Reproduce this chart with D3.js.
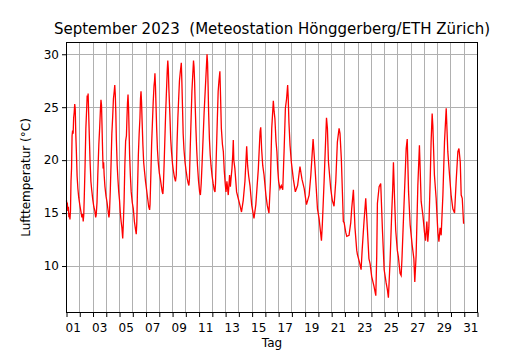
<!DOCTYPE html>
<html>
<head>
<meta charset="utf-8">
<script src="https://cdn.jsdelivr.net/npm/d3@7"></script>
<style>
  body { margin: 0; background: #fff; }
  svg { display: block; }
  text { font-family: "DejaVu Sans", sans-serif; fill: #000; }
</style>
</head>
<body>
<svg id="chart" width="530" height="350"></svg>
<script>
/*
 * Lufttemperatur September 2023, Hoenggerberg.
 * Values: [day since Sep 1 00:00, degC].
 */
var readings = [
  [0.00,16.2],[0.03,15.6],[0.06,16.0],[0.10,15.2],[0.14,15.6],[0.18,14.6],[0.22,15.0],[0.26,14.4],[0.30,15.2],[0.34,18.0],
  [0.38,19.2],[0.42,22.3],[0.46,22.8],[0.50,22.5],[0.54,24.0],[0.58,24.5],[0.62,25.3],[0.66,24.8],[0.70,22.5],[0.74,21.0],
  [0.80,18.5],[0.86,17.3],[0.92,16.5],[1.00,15.8],[1.08,15.2],[1.16,14.6],[1.22,14.9],[1.26,14.2],
  [1.30,14.8],[1.34,16.5],[1.40,19.5],[1.46,23.0],[1.52,24.8],[1.56,26.1],[1.60,25.6],[1.63,26.3],[1.67,24.5],[1.72,22.3],
  [1.78,19.8],[1.84,18.0],[1.90,17.2],[1.98,16.3],[2.06,15.6],[2.14,15.2],[2.20,14.6],[2.24,14.8],
  [2.30,16.0],[2.36,18.6],[2.44,21.5],[2.50,23.0],[2.56,24.8],[2.60,25.7],[2.64,25.2],[2.68,23.2],[2.72,21.0],[2.76,19.2],
  [2.80,19.8],[2.84,18.6],[2.90,17.5],[2.98,16.6],[3.06,16.0],[3.14,15.2],[3.20,14.6],[3.24,15.0],
  [3.30,17.0],[3.36,19.6],[3.42,22.5],[3.48,24.0],[3.54,25.8],[3.60,26.5],[3.64,27.1],[3.68,26.2],[3.72,24.5],[3.76,22.0],
  [3.82,19.6],[3.88,18.2],[3.94,17.0],[4.00,16.2],[4.06,15.0],[4.12,14.2],[4.18,13.6],[4.24,12.6],[4.28,13.8],
  [4.34,16.0],[4.40,19.5],[4.46,21.8],[4.52,22.3],[4.56,24.0],[4.60,25.4],[4.64,26.2],[4.68,25.0],[4.72,22.8],[4.76,20.5],
  [4.82,18.5],[4.88,17.0],[4.96,16.0],[5.04,15.4],[5.12,14.2],[5.20,13.5],[5.26,13.0],[5.30,14.0],
  [5.36,17.5],[5.42,20.5],[5.48,22.5],[5.54,24.0],[5.58,25.8],[5.62,26.5],[5.66,25.5],[5.70,23.8],[5.76,21.5],[5.82,19.8],
  [5.88,19.0],[5.96,18.0],[6.04,17.2],[6.12,16.4],[6.20,15.6],[6.27,15.3],[6.30,15.8],
  [6.36,18.5],[6.42,21.5],[6.48,23.5],[6.54,25.5],[6.60,27.0],[6.64,27.5],[6.67,28.2],[6.71,27.0],[6.75,25.2],[6.80,23.0],
  [6.86,21.0],[6.92,19.8],[7.00,18.8],[7.08,18.2],[7.16,17.5],[7.22,17.0],[7.27,16.8],[7.30,17.4],
  [7.36,19.5],[7.42,22.0],[7.48,24.5],[7.54,26.5],[7.60,28.5],[7.64,29.4],[7.68,28.6],[7.72,26.8],[7.76,25.5],[7.80,24.2],
  [7.86,22.0],[7.92,20.8],[8.00,19.6],[8.06,19.0],[8.14,18.4],[8.22,18.0],
  [8.28,18.6],[8.34,21.7],[8.40,24.0],[8.46,25.8],[8.52,27.5],[8.58,28.3],[8.66,29.2],[8.70,27.5],[8.75,25.0],[8.80,22.5],
  [8.86,21.0],[8.94,19.8],[9.02,19.0],[9.10,18.3],[9.18,17.8],[9.23,17.6],[9.27,18.2],
  [9.33,21.0],[9.40,24.0],[9.46,26.5],[9.52,28.0],[9.58,29.4],[9.62,28.8],[9.66,27.5],[9.70,25.5],[9.76,23.0],[9.82,21.0],
  [9.88,19.5],[9.96,18.0],[10.04,17.0],[10.10,16.7],[10.16,17.8],
  [10.22,19.5],[10.30,22.0],[10.38,24.5],[10.46,26.5],[10.54,28.5],[10.60,30.0],[10.64,29.2],[10.68,27.0],[10.72,24.5],[10.78,22.0],
  [10.84,20.5],[10.90,19.5],[10.98,18.5],[11.06,17.8],[11.14,17.2],[11.20,17.0],[11.24,17.8],
  [11.30,20.5],[11.38,24.0],[11.44,26.5],[11.50,27.5],[11.57,28.4],[11.62,26.0],[11.68,23.0],[11.76,21.5],[11.83,20.8],[11.90,19.0],
  [11.97,17.8],[12.03,17.0],[12.10,18.0],[12.16,17.2],[12.20,16.7],[12.26,17.8],[12.30,18.6],[12.36,17.5],[12.42,18.4],[12.48,19.2],
  [12.54,20.5],[12.58,21.9],[12.62,20.0],
  [12.70,19.2],[12.83,17.0],[12.95,16.4],[13.08,15.75],[13.20,15.1],[13.33,16.2],[13.46,18.0],[13.59,21.3],[13.66,19.5],[13.74,18.5],
  [13.84,17.6],[13.97,15.75],[14.14,14.5],[14.28,15.8],[14.47,19.2],[14.60,22.7],[14.65,23.1],[14.72,21.0],[14.80,19.5],[14.90,18.6],
  [15.04,16.7],[15.14,15.75],[15.27,15.0],[15.38,17.9],[15.48,23.0],[15.60,25.6],[15.66,24.6],[15.72,23.9],[15.80,21.8],[15.87,20.8],
  [15.93,19.2],
  [16.00,18.0],[16.10,17.3],[16.20,17.6],[16.31,17.2],[16.41,20.8],[16.51,24.9],[16.60,25.8],[16.68,27.1],[16.72,26.0],[16.78,23.5],
  [16.86,21.4],[16.96,19.8],[17.11,18.2],[17.26,17.0],[17.43,17.6],[17.61,19.4],[17.76,18.2],[17.93,17.3],[18.10,15.8],[18.30,16.7],
  [18.43,18.6],[18.60,22.0],[18.75,19.2],[18.93,15.4],[19.05,14.5],[19.23,12.4],[19.30,14.0],[19.43,18.0],[19.56,22.4],[19.61,24.0],
  [19.68,23.0],[19.76,19.8],[19.93,17.3],[20.05,16.2],[20.18,15.65],[20.31,18.0],[20.43,21.7],[20.56,23.0],[20.63,22.5],[20.73,20.1],
  [20.81,17.0],[20.88,14.2],[20.94,14.1],[21.06,13.2],[21.14,12.8],[21.31,12.9],[21.44,14.1],[21.51,15.4],[21.64,17.2],[21.76,13.6],
  [21.89,11.5],[21.94,11.1],[22.11,10.3],[22.22,9.65],[22.30,11.5],[22.44,14.2],[22.57,16.4],[22.69,13.6],[22.81,10.7],[22.90,10.2],
  [23.02,9.0],[23.19,8.1],[23.33,7.2],[23.40,11.0],[23.45,15.9],[23.58,17.5],[23.70,17.8],[23.83,13.4],[23.96,9.65],[24.11,8.4],
  [24.20,7.8],[24.28,7.0],[24.41,10.6],[24.53,15.0],[24.60,17.2],[24.66,19.8],[24.74,16.5],[24.83,13.4],[24.95,11.5],[25.03,10.9],
  [25.16,9.3],[25.24,9.1],[25.30,10.6],[25.46,15.9],[25.62,21.1],[25.70,22.0],[25.80,17.0],[25.92,13.9],[26.07,12.0],[26.20,10.7],
  [26.27,8.5],[26.37,11.0],[26.50,17.6],[26.62,21.4],[26.75,16.1],[26.88,14.8],[27.00,13.2],[27.08,12.4],[27.18,14.2],[27.25,12.3],
  [27.33,13.6],[27.43,18.0],[27.50,21.7],[27.58,24.4],[27.63,23.3],[27.75,18.6],[27.88,16.4],[28.01,13.2],[28.09,12.3],[28.18,13.6],
  [28.26,12.9],[28.39,16.7],[28.51,21.7],[28.64,24.9],[28.76,20.8],[28.89,18.6],[29.01,16.7],[29.14,15.4],[29.27,15.0],[29.39,18.0],
  [29.52,20.8],[29.60,21.1],[29.70,19.8],[29.77,16.7],[29.85,16.4],[29.95,14.0]
];

var dayGrid = d3.range(0, 32);            // midnight of each day, Sep 1 .. Oct 2
var dayLabels = ['01','03','05','07','09','11','13','15','17','19','21','23','25','27','29','31'];
var tempTicks = [10, 15, 20, 25, 30];

var titleText = 'September 2023  (Meteostation Hönggerberg/ETH Zürich)';
var xTitle = 'Tag';
var yTitle = 'Lufttemperatur (\u00B0C)';

var svg = d3.select('#chart'),
  margin = {top: 42.5, right: 52.5, bottom: 37.5, left: 66.5},
  width = +svg.attr('width') - margin.left - margin.right,
  height = +svg.attr('height') - margin.top - margin.bottom;

var x = d3.scaleLinear().domain([0, 31]).range([0, width]);
var y = d3.scaleLinear().domain([5.61, 31.11]).range([height, 0]);

var g = svg.append('g')
  .attr('transform', 'translate(' + margin.left + ',' + margin.top + ')');

// grid
g.append('g')
  .selectAll('line.vgrid')
  .data(dayGrid.slice(1, -1))
  .enter().append('line')
    .attr('x1', function(d) { return x(d); })
    .attr('x2', function(d) { return x(d); })
    .attr('y1', 0).attr('y2', height)
    .attr('stroke', '#b0b0b0').attr('stroke-width', 1)
    .attr('shape-rendering', 'crispEdges');

g.append('g')
  .selectAll('line.hgrid')
  .data(tempTicks)
  .enter().append('line')
    .attr('x1', 0).attr('x2', width)
    .attr('y1', function(d) { return y(d); })
    .attr('y2', function(d) { return y(d); })
    .attr('stroke', '#b0b0b0').attr('stroke-width', 1)
    .attr('shape-rendering', 'crispEdges');

// the temperature line
var line = d3.line()
  .x(function(d) { return x(d[0]); })
  .y(function(d) { return y(d[1]); });

g.append('path')
  .datum(readings)
  .attr('fill', 'none')
  .attr('stroke', '#ff0000')
  .attr('stroke-width', 1.3)
  .attr('stroke-linejoin', 'miter')
  .attr('d', line);

// x axis: tick marks on each midnight, labels in the middle of odd days
var xAxis = g.append('g')
  .attr('transform', 'translate(0,' + height + ')')
  .call(d3.axisBottom(x).tickValues(dayGrid).tickFormat('').tickSize(4.5).tickSizeOuter(0));
xAxis.select('.domain').remove();

g.append('g')
  .selectAll('text')
  .data(dayLabels)
  .enter().append('text')
    .attr('x', function(d) { return x(+d - 0.5); })
    .attr('y', height + 19)
    .attr('text-anchor', 'middle')
    .attr('font-size', '12px')
    .text(function(d) { return d; });

// y axis
var yAxis = g.append('g')
  .call(d3.axisLeft(y).tickValues(tempTicks).tickSize(4.5).tickSizeOuter(0).tickPadding(3));
yAxis.select('.domain').remove();
yAxis.selectAll('text')
  .attr('font-size', '12px')
  .attr('font-family', '"DejaVu Sans", sans-serif');

// frame
g.append('rect')
  .attr('x', 0).attr('y', 0)
  .attr('width', width).attr('height', height)
  .attr('fill', 'none')
  .attr('stroke', '#000')
  .attr('stroke-width', 1)
  .attr('shape-rendering', 'crispEdges');

// titles
svg.append('text')
  .attr('x', margin.left + width / 2)
  .attr('y', 34)
  .attr('text-anchor', 'middle')
  .attr('font-size', '15px')
  .style('white-space', 'pre')
  .text(titleText);

svg.append('text')
  .attr('x', margin.left + width / 2)
  .attr('y', 346.5)
  .attr('text-anchor', 'middle')
  .attr('font-size', '12px')
  .text(xTitle);

svg.append('text')
  .attr('transform', 'translate(29.5,' + (margin.top + height / 2) + ') rotate(-90)')
  .attr('text-anchor', 'middle')
  .attr('font-size', '12px')
  .text(yTitle);
</script>
</body>
</html>
